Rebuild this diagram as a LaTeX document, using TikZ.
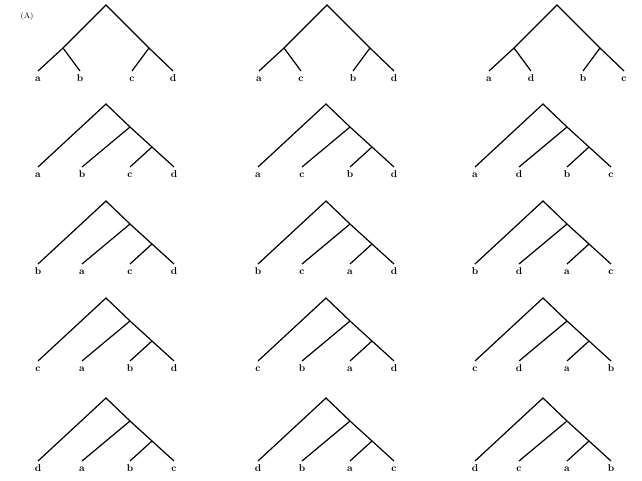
\documentclass[tikz,border=0pt]{standalone}
\usepackage{tikz}
\usetikzlibrary{positioning}

\begin{document}
\begin{tikzpicture}[x=1pt, y=-1pt, line width=1.2pt,
		leaf/.style={font=\bfseries, anchor=north, inner xsep=1pt, inner ysep=3pt, text height=1.5ex, text depth=0pt}]
		\useasboundingbox (0,0) rectangle (642,480);

		\node[font=\footnotesize] (tag) at (27,16) {(A)};

		% top row: balanced trees
		\foreach \dx/\p/\q/\s/\t [count=\i] in {0/a/b/c/d, 221/a/c/b/d, 451/a/d/b/c} {
				\begin{scope}[shift={(\dx,5)}]
					\coordinate (bal\i) at (106,0);
					\coordinate (bal\i L) at (63,43);
					\coordinate (bal\i R) at (149,43);
					\node[leaf] (bal\i p) at (38,66) {\p};
					\node[leaf] (bal\i q) at (80,66) {\q};
					\node[leaf] (bal\i s) at (132,66) {\s};
					\node[leaf] (bal\i t) at (173,66) {\t};
					\draw (bal\i p.north) -- (bal\i L) -- (bal\i) -- (bal\i R) -- (bal\i t.north);
					\draw (bal\i L) -- (bal\i q.north);
					\draw (bal\i R) -- (bal\i s.north);
				\end{scope}
			}

		% other rows: ladder trees
		\foreach \y/\dx/\p/\q/\s/\t [count=\i] in {
				104/0/a/b/c/d, 104/220/a/c/b/d, 104/437/a/d/b/c,
				201/0/b/a/c/d, 201/220/b/c/a/d, 201/437/b/d/a/c,
				298/0/c/a/b/d, 298/220/c/b/a/d, 298/437/c/d/a/b,
				398/0/d/a/b/c, 398/220/d/b/a/c, 398/437/d/c/a/b} {
				\begin{scope}[shift={(\dx,\y)}]
					\coordinate (lad\i) at (106,0);
					\coordinate (lad\i U) at (130,23);
					\coordinate (lad\i V) at (152,43);
					\node[leaf] (lad\i p) at (38,63) {\p};
					\node[leaf] (lad\i q) at (82,63) {\q};
					\node[leaf] (lad\i s) at (130,63) {\s};
					\node[leaf] (lad\i t) at (174,63) {\t};
					\draw (lad\i p.north) -- (lad\i) -- (lad\i U) -- (lad\i V) -- (lad\i t.north);
					\draw (lad\i U) -- (lad\i q.north);
					\draw (lad\i V) -- (lad\i s.north);
				\end{scope}
			}
	\end{tikzpicture}
\end{document}
